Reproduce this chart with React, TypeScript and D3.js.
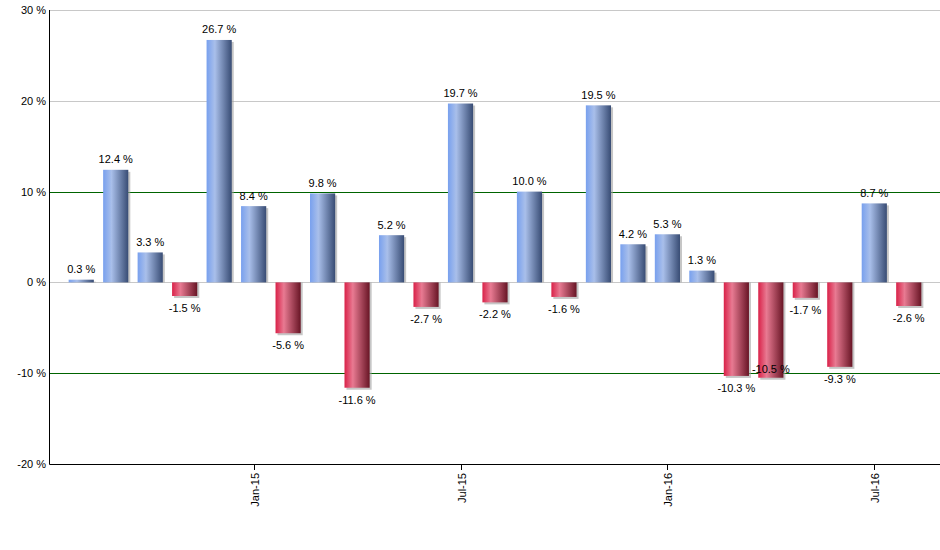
import React from 'react';
import { scaleBand, scaleLinear } from 'd3';

// monthly returns, Aug-14 .. Aug-16
const months = [
  'Aug-14', 'Sep-14', 'Oct-14', 'Nov-14', 'Dec-14',
  'Jan-15', 'Feb-15', 'Mar-15', 'Apr-15', 'May-15', 'Jun-15',
  'Jul-15', 'Aug-15', 'Sep-15', 'Oct-15', 'Nov-15', 'Dec-15',
  'Jan-16', 'Feb-16', 'Mar-16', 'Apr-16', 'May-16', 'Jun-16',
  'Jul-16', 'Aug-16',
];
const values = [
  0.3, 12.4, 3.3, -1.5, 26.7,
  8.4, -5.6, 9.8, -11.6, 5.2, -2.7,
  19.7, -2.2, 10.0, -1.6, 19.5, 4.2,
  5.3, 1.3, -10.3, -10.5, -1.7, -9.3,
  8.7, -2.6,
];
const xTickLabels = ['Jan-15', 'Jul-15', 'Jan-16', 'Jul-16'];
const yTicks = [-20, -10, 0, 10, 20, 30];
const greenLines = [10, -10];

export default function App() {
  const width = 940;
  const height = 550;
  const plot = { left: 49.5, right: 940, top: 10, bottom: 464 };

  const x = scaleBand<string>()
    .domain(months)
    .range([64, 926])
    .paddingInner(0.27)
    .paddingOuter(0.135);
  const y = scaleLinear().domain([-20, 30]).range([plot.bottom, plot.top]);

  const font = '"Liberation Sans", Arial, sans-serif';
  const fs = 11;
  const bw = x.bandwidth();

  // place value labels outside the bar end; if one would run into the
  // previous label, tuck it inside the bar end instead
  const placed: { x0: number; x1: number; y0: number; y1: number }[] = [];
  const labels = values.map((v, i) => {
    const text = `${v.toFixed(1)} %`;
    const cx = x(months[i])! + bw / 2;
    const w = text.length * 6.1;
    let ty = v >= 0 ? y(v) - 6.5 : y(v) + 16;
    const hit = (b: number) =>
      placed.some(p => cx - w / 2 < p.x1 && cx + w / 2 > p.x0 && b - 9 < p.y1 && b + 2 > p.y0);
    if (hit(ty)) ty = v >= 0 ? y(v) + 14 : y(v) - 4.5;
    placed.push({ x0: cx - w / 2, x1: cx + w / 2, y0: ty - 9, y1: ty + 2 });
    return { text, cx, ty };
  });

  return (
    <svg width={width} height={height} style={{ position: 'absolute', left: 0, top: 0 }}>
      <defs>
        <linearGradient id="blueGrad" x1="0" x2="1" y1="0" y2="0">
          <stop offset="0%" stopColor="#78a0ee" />
          <stop offset="33%" stopColor="#a9bfea" />
          <stop offset="100%" stopColor="#384c74" />
        </linearGradient>
        <linearGradient id="redGrad" x1="0" x2="1" y1="0" y2="0">
          <stop offset="0%" stopColor="#d92148" />
          <stop offset="33%" stopColor="#e87a92" />
          <stop offset="100%" stopColor="#681525" />
        </linearGradient>
      </defs>

      {/* gridlines */}
      {yTicks.filter(t => t !== -20).map(t => (
        <line
          key={t}
          x1={plot.left}
          x2={plot.right}
          y1={Math.round(y(t)) + 0.5}
          y2={Math.round(y(t)) + 0.5}
          stroke={greenLines.includes(t) ? '#006400' : '#c8c8c8'}
          strokeWidth={1}
        />
      ))}

      {/* shadows */}
      {values.map((v, i) => {
        const x0 = x(months[i])!;
        const top = y(Math.max(v, 0));
        const bot = y(Math.min(v, 0));
        return (
          <rect
            key={'s' + i}
            x={x0 + 2}
            y={v >= 0 ? top + 2 : top}
            width={bw}
            height={v >= 0 ? bot - top - 2 : bot - top + 2}
            fill="#a0a0a0"
            opacity={0.6}
          />
        );
      })}

      {/* bars */}
      {values.map((v, i) => {
        const x0 = x(months[i])!;
        const top = y(Math.max(v, 0));
        const bot = y(Math.min(v, 0));
        return (
          <rect
            key={'b' + i}
            x={x0}
            y={top}
            width={bw}
            height={bot - top}
            fill={v >= 0 ? 'url(#blueGrad)' : 'url(#redGrad)'}
          />
        );
      })}

      {/* value labels */}
      {labels.map((l, i) => (
        <text
          key={'l' + i}
          x={l.cx}
          y={l.ty}
          textAnchor="middle"
          fontFamily={font}
          fontSize={fs}
          fill="#000"
        >
          {l.text}
        </text>
      ))}

      {/* axes */}
      <line x1={plot.left} x2={plot.left} y1={plot.top} y2={plot.bottom + 0.5} stroke="#000" />
      <line x1={plot.left} x2={plot.right} y1={plot.bottom + 0.5} y2={plot.bottom + 0.5} stroke="#000" />

      {yTicks.map(t => (
        <text
          key={'y' + t}
          x={46}
          y={y(t) + 4}
          textAnchor="end"
          fontFamily={font}
          fontSize={fs}
          fill="#000"
        >
          {t} %
        </text>
      ))}

      {xTickLabels.map(m => {
        const cx = Math.round(x(m)! + bw / 2) + 0.5;
        return (
          <g key={m}>
            <line x1={cx} x2={cx} y1={plot.bottom} y2={plot.bottom + 6} stroke="#000" />
            <text
              transform={`translate(${cx + 4},${plot.bottom + 9}) rotate(-90)`}
              textAnchor="end"
              fontFamily={font}
              fontSize={fs}
              fill="#000"
            >
              {m}
            </text>
          </g>
        );
      })}
    </svg>
  );
}
